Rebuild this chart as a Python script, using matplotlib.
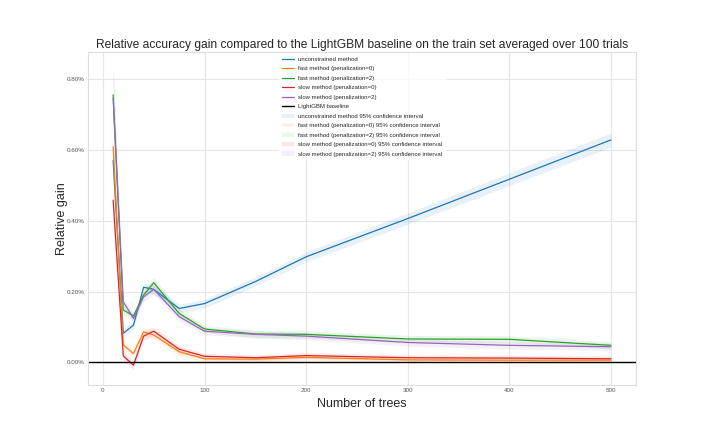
import matplotlib

matplotlib.use("Agg")
import matplotlib.pyplot as plt
import numpy as np
import seaborn as sns
from matplotlib.ticker import FuncFormatter

# Number of trees evaluated
n_trees = [10, 20, 30, 40, 50, 75, 100, 150, 200, 300, 400, 500]

# mean relative gain (in %) per method
unconstrained = [0.570, 0.082, 0.105, 0.212, 0.206, 0.152, 0.166, 0.228, 0.298, 0.406, 0.517, 0.628]
fast_pen0 = [0.609, 0.049, 0.025, 0.086, 0.077, 0.030, 0.010, 0.009, 0.014, 0.007, 0.006, 0.006]
fast_pen2 = [0.755, 0.148, 0.131, 0.190, 0.225, 0.138, 0.094, 0.080, 0.079, 0.066, 0.065, 0.048]
slow_pen0 = [0.458, 0.018, -0.008, 0.074, 0.088, 0.037, 0.017, 0.013, 0.019, 0.013, 0.012, 0.010]
slow_pen2 = [0.745, 0.171, 0.124, 0.185, 0.206, 0.129, 0.088, 0.079, 0.074, 0.056, 0.048, 0.044]

# half-width of the 95% confidence interval (in %)
unconstrained_ci = [0.060, 0.012, 0.012, 0.013, 0.013, 0.012, 0.012, 0.013, 0.014, 0.016, 0.018, 0.020]
fast_pen0_ci = [0.070, 0.012, 0.010, 0.012, 0.012, 0.010, 0.008, 0.008, 0.008, 0.008, 0.008, 0.008]
fast_pen2_ci = [0.080, 0.014, 0.012, 0.013, 0.014, 0.012, 0.010, 0.010, 0.010, 0.010, 0.010, 0.010]
slow_pen0_ci = [0.070, 0.012, 0.012, 0.012, 0.012, 0.010, 0.008, 0.008, 0.008, 0.008, 0.008, 0.008]
slow_pen2_ci = [0.085, 0.014, 0.012, 0.013, 0.014, 0.012, 0.010, 0.010, 0.010, 0.010, 0.010, 0.010]

series = [
    ("unconstrained method", unconstrained, unconstrained_ci, "#1f77b4"),
    ("fast method (penalization=0)", fast_pen0, fast_pen0_ci, "#ff7f0e"),
    ("fast method (penalization=2)", fast_pen2, fast_pen2_ci, "#2ca02c"),
    ("slow method (penalization=0)", slow_pen0, slow_pen0_ci, "#d62728"),
    ("slow method (penalization=2)", slow_pen2, slow_pen2_ci, "#9467bd"),
]

sns.set_style("whitegrid")
plt.rcParams["font.family"] = ["Liberation Sans", "DejaVu Sans"]

fig = plt.figure(figsize=(7.06, 4.41), dpi=100)
ax = fig.add_axes([0.125, 0.127, 0.7755, 0.754])

x = np.array(n_trees)
for label, mean, ci, color in series:
    ax.plot(x, mean, color=color, lw=0.9, label=label)
ax.axhline(0, color="black", lw=1.0, label="LightGBM baseline")
for label, mean, ci, color in series:
    m, c = np.array(mean), np.array(ci)
    ax.fill_between(x, m - c, m + c, color=color, alpha=0.1, lw=0,
                    label=f"{label} 95% confidence interval")

ax.set_xlim(-14.5, 524.5)
ax.set_ylim(-0.064, 0.875)
ax.set_xticks([0, 100, 200, 300, 400, 500])
ax.set_yticks([0.0, 0.2, 0.4, 0.6, 0.8])
ax.yaxis.set_major_formatter(FuncFormatter(lambda v, _: f"{v:.2f}%"))
ax.tick_params(labelsize=4.5, colors="#555555", length=0, pad=2.5)
ax.grid(color="#e6e6e6", lw=0.8)
for s in ax.spines.values():
    s.set_color("#dddddd")

ax.set_title("Relative accuracy gain compared to the LightGBM baseline on the train set averaged over 100 trials",
             fontsize=8.66, pad=3)
ax.set_xlabel("Number of trees", fontsize=9, labelpad=3)
ax.set_ylabel("Relative gain", fontsize=9, labelpad=-1)
ax.legend(loc="upper center", fontsize=4.3, frameon=True, framealpha=0.8,
          edgecolor="white", borderaxespad=0.3, labelspacing=0.72)

fig.savefig("out.png", dpi=100)
